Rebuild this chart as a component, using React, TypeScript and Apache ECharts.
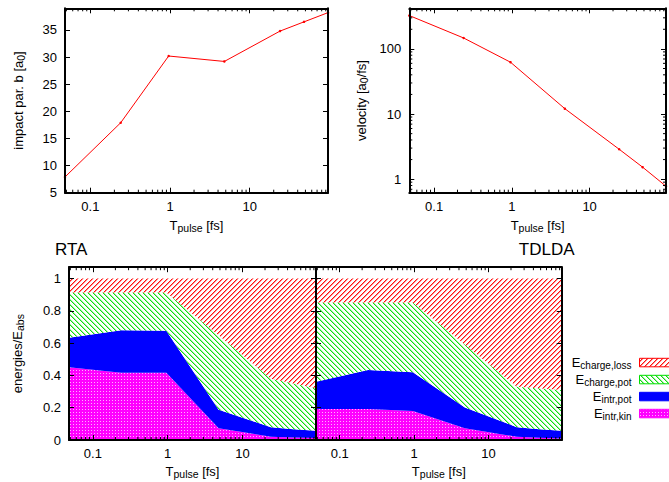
import React, { useEffect, useRef } from 'react';
import * as echarts from 'echarts';

// ---- data ----
const T_PULSE = [0.048, 0.24, 0.96, 4.8, 24, 48, 96];
const IMPACT_B = [7.9, 17.9, 30.2, 29.2, 34.8, 36.5, 38.2];
const VELOCITY = [325, 147, 62.5, 12.1, 2.88, 1.53, 0.78];

const RTA_INTR_KIN = [0.45, 0.416, 0.416, 0.072, 0.02, 0.016, 0.013];
const RTA_INTR_POT = [0.183, 0.264, 0.26, 0.115, 0.059, 0.05, 0.045];
const RTA_CHARGE_POT = [0.28, 0.233, 0.237, 0.461, 0.301, 0.284, 0.262];
const RTA_CHARGE_LOSS = [0.087, 0.087, 0.087, 0.352, 0.62, 0.65, 0.68];

const TDLDA_INTR_KIN = [0.192, 0.192, 0.18, 0.072, 0.02, 0.014, 0.01];
const TDLDA_INTR_POT = [0.168, 0.241, 0.239, 0.13, 0.059, 0.052, 0.048];
const TDLDA_CHARGE_POT = [0.492, 0.419, 0.433, 0.389, 0.251, 0.254, 0.252];
const TDLDA_CHARGE_LOSS = [0.148, 0.148, 0.148, 0.409, 0.67, 0.68, 0.69];

const LEGEND_LABELS = ['charge,loss', 'charge,pot', 'intr,pot', 'intr,kin'];
const PANEL_TITLES = ['RTA', 'TDLDA'];

const X_RANGE = [0.048, 96];
const IMPACT_RANGE = [5, 39];
const VELOCITY_RANGE = [0.62, 420];
const ENERGY_RANGE = [0, 1.07];

const X_MINOR_TICKS = [0.05, 0.06, 0.07, 0.08, 0.09, 0.2, 0.3, 0.4, 0.5, 0.6, 0.7, 0.8, 0.9,
  2, 3, 4, 5, 6, 7, 8, 9, 20, 30, 40, 50, 60, 70, 80, 90];
const V_MINOR_TICKS = [0.7, 0.8, 0.9, 2, 3, 4, 5, 6, 7, 8, 9, 20, 30, 40, 50, 60, 70, 80, 90, 200, 300, 400];

const FONT = '"Liberation Sans", Arial, Helvetica, sans-serif';
const RED = '#ff0000';
const GREEN = '#00dd00';
const BLUE = '#0000ff';
const MAGENTA = '#ff00ff';

const isPow10 = (v: number) => Math.abs(Math.log10(v) - Math.round(Math.log10(v))) < 1e-6;
const fmtLog = (v: number) => (isPow10(v) ? String(+v.toPrecision(4)) : '');
const fmtStep = (step: number) => (v: number) => {
  const r = Math.round(v / step);
  return Math.abs(v - r * step) < 1e-6 ? String(+(r * step).toFixed(2)) : '';
};

const nameRich = {
  m: { fontSize: 13, fontFamily: FONT, color: '#000' },
  s: { fontSize: 10.5, fontFamily: FONT, color: '#000', padding: [5, 0, 0, 0] },
};

function tile(size: number, pix: (i: number, j: number) => string) {
  const c = document.createElement('canvas');
  c.width = size;
  c.height = size;
  const ctx = c.getContext('2d')!;
  for (let j = 0; j < size; j++) {
    for (let i = 0; i < size; i++) {
      ctx.fillStyle = pix(i, j);
      ctx.fillRect(i, j, 1, 1);
    }
  }
  return { image: c.toDataURL(), repeat: 'repeat', imageWidth: size, imageHeight: size } as any;
}

function axisCommon(grid: number) {
  return {
    gridIndex: grid,
    z: 10,
    axisLine: { show: true, onZero: false, lineStyle: { color: '#000', width: 2 } },
    axisTick: { show: true, inside: true, length: 5, lineStyle: { color: '#000', width: 1 } },
    splitLine: { show: false },
    minorTick: { show: false },
    minorSplitLine: { show: false },
  };
}

function xAxisPair(grid: number, nameGap: number) {
  const c = { ...axisCommon(grid), type: 'log', logBase: 10, min: X_RANGE[0], max: X_RANGE[1] };
  return [
    {
      ...c,
      position: 'bottom',
      name: '{m|T}{s|pulse}{m| [fs]}',
      nameLocation: 'middle',
      nameGap,
      nameTextStyle: { fontSize: 13, fontFamily: FONT, color: '#000', rich: nameRich },
      axisLabel: { show: true, margin: 7, fontSize: 13, fontFamily: FONT, color: '#000', formatter: fmtLog },
    },
    { ...c, position: 'top', axisLabel: { show: false } },
  ];
}

function yAxisPair(grid: number, type: string, range: number[], extra: any, name: string | null, nameGap: number, labels: boolean) {
  const c: any = { ...axisCommon(grid), type, min: range[0], max: range[1], ...extra };
  const fmt = type === 'log' ? fmtLog : fmtStep(extra.interval);
  return [
    {
      ...c,
      position: 'left',
      name: name || '',
      nameLocation: 'middle',
      nameGap,
      nameTextStyle: { fontSize: 13, fontFamily: FONT, color: '#000', rich: nameRich },
      axisLabel: { show: labels, margin: 8, fontSize: 13, fontFamily: FONT, color: '#000', formatter: fmt },
    },
    { ...c, position: 'right', axisLabel: { show: false } },
  ];
}

function minorX(xIdx: number, yIdx: number, yRange: number[]) {
  return {
    type: 'custom',
    xAxisIndex: xIdx,
    yAxisIndex: yIdx,
    silent: true,
    clip: false,
    z: 12,
    data: X_MINOR_TICKS.map((v) => [v, yRange[0]]),
    renderItem: (params: any, api: any) => {
      const v = api.value(0);
      const a = api.coord([v, yRange[0]]);
      const b = api.coord([v, yRange[1]]);
      return {
        type: 'group',
        children: [
          { type: 'line', shape: { x1: a[0], y1: a[1], x2: a[0], y2: a[1] - 3 }, style: { stroke: '#000', lineWidth: 1 } },
          { type: 'line', shape: { x1: b[0], y1: b[1], x2: b[0], y2: b[1] + 3 }, style: { stroke: '#000', lineWidth: 1 } },
        ],
      };
    },
  };
}

function minorY(xIdx: number, yIdx: number, ticks: number[]) {
  return {
    type: 'custom',
    xAxisIndex: xIdx,
    yAxisIndex: yIdx,
    silent: true,
    clip: false,
    z: 12,
    data: ticks.map((v) => [X_RANGE[0], v]),
    renderItem: (params: any, api: any) => {
      const v = api.value(1);
      const a = api.coord([X_RANGE[0], v]);
      const b = api.coord([X_RANGE[1], v]);
      return {
        type: 'group',
        children: [
          { type: 'line', shape: { x1: a[0], y1: a[1], x2: a[0] + 3, y2: a[1] }, style: { stroke: '#000', lineWidth: 1 } },
          { type: 'line', shape: { x1: b[0], y1: b[1], x2: b[0] - 3, y2: b[1] }, style: { stroke: '#000', lineWidth: 1 } },
        ],
      };
    },
  };
}

// Stacked layers (bottom -> top), each drawn as the polygon between its lower and upper
// cumulative boundary, positioned through the axes with api.coord.
function stackedLayers(xIdx: number, yIdx: number, layers: number[][], fills: any[]) {
  const cum: number[][] = [];
  layers.forEach((vals, k) => {
    cum.push(vals.map((v, i) => (k === 0 ? v : cum[k - 1][i] + v)));
  });
  return {
    type: 'custom',
    xAxisIndex: xIdx,
    yAxisIndex: yIdx,
    silent: true,
    clip: false,
    z: 2,
    data: layers.map((_, k) => [X_RANGE[0], k * 0.1]),
    renderItem: (params: any, api: any) => {
      const k = params.dataIndex;
      const upper = cum[k];
      const lower = k === 0 ? T_PULSE.map(() => 0) : cum[k - 1];
      const pts: number[][] = [];
      T_PULSE.forEach((x, i) => pts.push(api.coord([x, upper[i]])));
      for (let i = T_PULSE.length - 1; i >= 0; i--) pts.push(api.coord([T_PULSE[i], lower[i]]));
      return { type: 'polygon', shape: { points: pts }, style: { fill: fills[k], stroke: null } };
    },
  };
}

export default function App() {
  const ref = useRef<HTMLDivElement>(null);
  useEffect(() => {
    const chart = echarts.init(ref.current!, null, { renderer: 'svg' });

    const redHatch = tile(5, (i, j) => {
      const d = (i + j) % 5;
      return d === 0 ? '#ff1010' : d === 1 ? '#ff9090' : '#ffffff';
    });
    const greenHatch = tile(5, (i, j) => {
      const d = (((i - j) % 5) + 5) % 5;
      return d === 0 ? '#10e010' : d === 1 ? '#a0f0a0' : '#ffffff';
    });
    const magentaDots = tile(3, (i, j) => (i === 1 && j === 1 ? '#ffb0ff' : MAGENTA));
    const fills = [magentaDots, BLUE, greenHatch, redHatch];
    const legendFills = [redHatch, greenHatch, BLUE, magentaDots];
    const legendStrokes = [RED, GREEN, BLUE, MAGENTA];

    const grids = [
      { left: 65, top: 8.3, width: 263, height: 184.4 },
      { left: 409.3, top: 8.3, width: 263, height: 184.4 },
      { left: 69, top: 267.2, width: 247, height: 172.8 },
      { left: 316, top: 267.2, width: 245.7, height: 172.8 },
    ].map((g) => ({ ...g, show: false, containLabel: false }));

    const xAxis = [
      ...xAxisPair(0, 25),
      ...xAxisPair(1, 25),
      ...xAxisPair(2, 23.5),
      ...xAxisPair(3, 23.5),
    ];
    const yAxis = [
      ...yAxisPair(0, 'value', IMPACT_RANGE, { interval: 5 }, '{m|impact par. b [a}{s|0}{m|]}', 39, true),
      ...yAxisPair(1, 'log', VELOCITY_RANGE, { logBase: 10 }, '{m|velocity [a}{s|0}{m|/fs]}', 40, true),
      ...yAxisPair(2, 'value', ENERGY_RANGE, { interval: 0.2 }, '{m|energies/E}{s|abs}', 44, true),
      ...yAxisPair(3, 'value', ENERGY_RANGE, { interval: 0.2 }, null, 40, false),
    ];

    const legendGraphics: any[] = [];
    LEGEND_LABELS.forEach((lab, k) => {
      const yTop = 358.3 + k * 17;
      legendGraphics.push({
        type: 'text',
        x: 631.5,
        y: yTop + 4.3,
        style: {
          text: `{m|E}{s|${lab}}`,
          align: 'right',
          verticalAlign: 'middle',
          rich: {
            m: { fontSize: 13, fontFamily: FONT, fill: '#000' },
            s: { fontSize: 10, fontFamily: FONT, fill: '#000', padding: [5, 0, 0, 0] },
          },
        },
      });
      legendGraphics.push({
        type: 'rect',
        shape: { x: 639.5, y: yTop, width: 36, height: 8.5 },
        style: { fill: legendFills[k], stroke: legendStrokes[k], lineWidth: 1 },
      });
    });

    const option: any = {
      animation: false,
      backgroundColor: '#fff',
      textStyle: { fontFamily: FONT },
      grid: grids,
      xAxis,
      yAxis,
      graphic: [
        {
          type: 'text',
          x: 55,
          y: 249,
          style: { text: PANEL_TITLES[0], fontSize: 17, fontFamily: FONT, fill: '#000', verticalAlign: 'middle' },
        },
        {
          type: 'text',
          x: 574.5,
          y: 249,
          style: { text: PANEL_TITLES[1], fontSize: 17, fontFamily: FONT, fill: '#000', align: 'right', verticalAlign: 'middle' },
        },
        ...legendGraphics,
      ],
      series: [
        {
          type: 'line',
          xAxisIndex: 0,
          yAxisIndex: 0,
          data: T_PULSE.map((x, i) => [x, IMPACT_B[i]]),
          symbol: 'circle',
          symbolSize: 2.5,
          itemStyle: { color: RED },
          lineStyle: { color: RED, width: 1 },
          z: 3,
        },
        {
          type: 'line',
          xAxisIndex: 2,
          yAxisIndex: 2,
          data: T_PULSE.map((x, i) => [x, VELOCITY[i]]),
          symbol: 'circle',
          symbolSize: 2.5,
          itemStyle: { color: RED },
          lineStyle: { color: RED, width: 1 },
          z: 3,
        },
        stackedLayers(4, 4, [RTA_INTR_KIN, RTA_INTR_POT, RTA_CHARGE_POT, RTA_CHARGE_LOSS], fills),
        stackedLayers(6, 6, [TDLDA_INTR_KIN, TDLDA_INTR_POT, TDLDA_CHARGE_POT, TDLDA_CHARGE_LOSS], fills),
        minorX(0, 0, IMPACT_RANGE),
        minorX(2, 2, VELOCITY_RANGE),
        minorY(2, 2, V_MINOR_TICKS),
        minorX(4, 4, ENERGY_RANGE),
        minorX(6, 6, ENERGY_RANGE),
      ],
    };
    chart.setOption(option);
    return () => chart.dispose();
  }, []);
  return <div ref={ref} style={{ position: 'absolute', left: 0, top: 0, width: 669, height: 482 }} />;
}
